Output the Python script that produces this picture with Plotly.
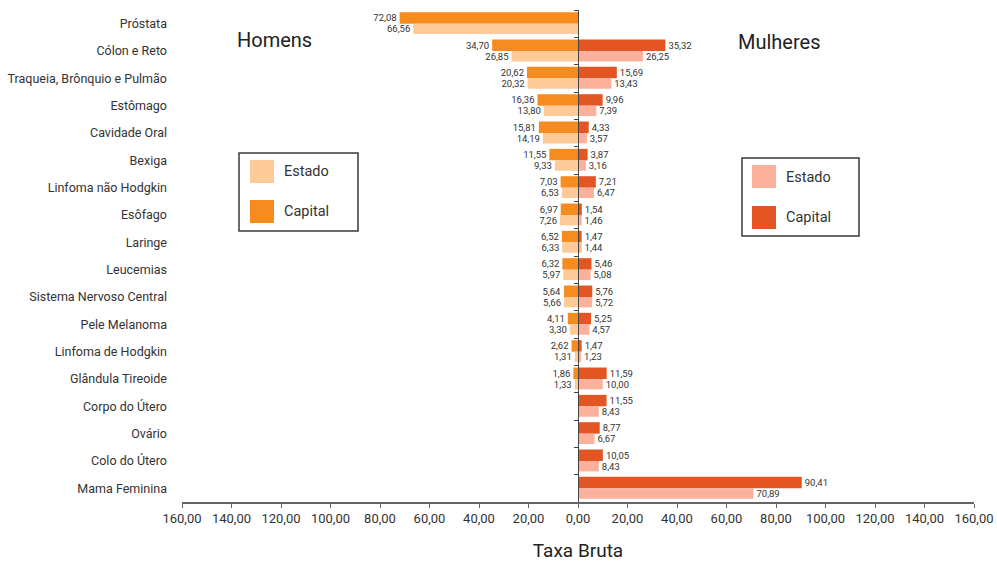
import plotly.graph_objects as go

categories = [
    "Próstata", "Cólon e Reto", "Traqueia, Brônquio e Pulmão", "Estômago",
    "Cavidade Oral", "Bexiga", "Linfoma não Hodgkin", "Esôfago", "Laringe",
    "Leucemias", "Sistema Nervoso Central", "Pele Melanoma", "Linfoma de Hodgkin",
    "Glândula Tireoide", "Corpo do Útero", "Ovário", "Colo do Útero", "Mama Feminina",
]
men_capital = [72.08, 34.70, 20.62, 16.36, 15.81, 11.55, 7.03, 6.97, 6.52, 6.32,
               5.64, 4.11, 2.62, 1.86, None, None, None, None]
men_estado = [66.56, 26.85, 20.32, 13.80, 14.19, 9.33, 6.53, 7.26, 6.33, 5.97,
              5.66, 3.30, 1.31, 1.33, None, None, None, None]
women_capital = [None, 35.32, 15.69, 9.96, 4.33, 3.87, 7.21, 1.54, 1.47, 5.46,
                 5.76, 5.25, 1.47, 11.59, 11.55, 8.77, 10.05, 90.41]
women_estado = [None, 26.25, 13.43, 7.39, 3.57, 3.16, 6.47, 1.46, 1.44, 5.08,
                5.72, 4.57, 1.23, 10.00, 8.43, 6.67, 8.43, 70.89]
x_ticks = [-160, -140, -120, -100, -80, -60, -40, -20, 0, 20, 40, 60, 80, 100, 120, 140, 160]

COL_MEN_CAP = "#F68B1F"
COL_MEN_EST = "#FDCA98"
COL_WOM_CAP = "#E35624"
COL_WOM_EST = "#FBB19C"
FONT = "Roboto, Liberation Sans, sans-serif"
TXT = "#333333"

W, H = 997, 562
L, R, T, B = 182, 23, 10, 60
pw, ph = W - L - R, H - T - B


def fmt(v):
    return "" if v is None else f"{v:.2f}".replace(".", ",")


def px(x):
    return (x - L) / pw


def py(y):
    return (H - B - y) / ph


idx = list(range(len(categories)))
fig = go.Figure()


def add_bar(vals, sign, color, offset, width, name):
    xs = [None if v is None else sign * v for v in vals]
    fig.add_trace(go.Bar(
        y=idx, x=xs, orientation="h", offset=offset, width=width, name=name,
        marker=dict(color=color, line=dict(width=0)),
        text=[fmt(v) for v in vals], textposition="outside",
        textfont=dict(size=9.5, color=TXT, family=FONT),
        constraintext="none", cliponaxis=False, showlegend=False,
    ))


add_bar(men_capital, -1, COL_MEN_CAP, -0.42, 0.42, "Homens - Capital")
add_bar(men_estado, -1, COL_MEN_EST, 0.0, 0.38, "Homens - Estado")
add_bar(women_capital, 1, COL_WOM_CAP, -0.42, 0.42, "Mulheres - Capital")
add_bar(women_estado, 1, COL_WOM_EST, 0.0, 0.38, "Mulheres - Estado")

# helper trace so the central axis (y2) is drawn
fig.add_trace(go.Scatter(x=[0], y=[0], yaxis="y2", mode="markers",
                         marker=dict(opacity=0), showlegend=False, hoverinfo="skip"))

shapes = []
annotations = []


def legend_box(x0, y0, x1, y1, sq_x0, est_y0, cap_y0, txt_x, est_col, cap_col):
    shapes.append(dict(type="rect", xref="paper", yref="paper",
                       x0=px(x0), x1=px(x1), y0=py(y1), y1=py(y0),
                       line=dict(color="#3a3a3a", width=1.5), fillcolor="white", layer="above"))
    for (yy, col, label) in [(est_y0, est_col, "Estado"), (cap_y0, cap_col, "Capital")]:
        shapes.append(dict(type="rect", xref="paper", yref="paper",
                           x0=px(sq_x0), x1=px(sq_x0 + 24), y0=py(yy + 23), y1=py(yy),
                           line=dict(width=0), fillcolor=col, layer="above"))
        annotations.append(dict(text=label, xref="paper", yref="paper",
                                x=px(txt_x), y=py(yy + 12), xanchor="left", yanchor="middle",
                                showarrow=False, font=dict(size=14.5, color=TXT, family=FONT)))


legend_box(239, 153, 358, 231, 250, 160, 200, 282, COL_MEN_EST, COL_MEN_CAP)
legend_box(742, 158, 859, 236, 752, 165, 206, 784, COL_WOM_EST, COL_WOM_CAP)

annotations.append(dict(text="Homens", xref="paper", yref="paper", x=px(274), y=py(40),
                        xanchor="center", yanchor="middle", showarrow=False,
                        font=dict(size=20, color="#222", family=FONT)))
annotations.append(dict(text="Mulheres", xref="paper", yref="paper", x=px(779), y=py(42),
                        xanchor="center", yanchor="middle", showarrow=False,
                        font=dict(size=20, color="#222", family=FONT)))

fig.update_layout(
    width=W, height=H,
    margin=dict(l=L, r=R, t=T, b=B),
    paper_bgcolor="white", plot_bgcolor="white",
    barmode="overlay",
    font=dict(family=FONT, color=TXT),
    xaxis=dict(
        range=[-160, 160], tickvals=x_ticks, ticktext=[fmt(abs(v)) for v in x_ticks],
        ticks="outside", ticklen=4, tickcolor="#666", showline=True, linecolor="#666",
        linewidth=1.5, showgrid=False, zeroline=False, automargin=False,
        tickfont=dict(size=13, color=TXT, family=FONT),
        title=dict(text="Taxa Bruta", font=dict(size=19, color="#222", family=FONT), standoff=20),
    ),
    yaxis=dict(
        range=[17.5, -0.5], tickvals=idx, ticktext=categories, showline=False,
        showgrid=False, zeroline=False, ticks="", ticklabelstandoff=14, automargin=False,
        tickfont=dict(size=12.5, color=TXT, family=FONT),
    ),
    yaxis2=dict(
        overlaying="y", anchor="free", position=0.5, range=[17.5, -0.5],
        tickvals=[i - 0.5 for i in idx], ticks="outside", ticklen=4, tickcolor="#444",
        showline=True, linecolor="#444", linewidth=1.2, showticklabels=False,
        showgrid=False, zeroline=False, automargin=False,
    ),
    shapes=shapes, annotations=annotations,
)

fig.write_html("out.html")
